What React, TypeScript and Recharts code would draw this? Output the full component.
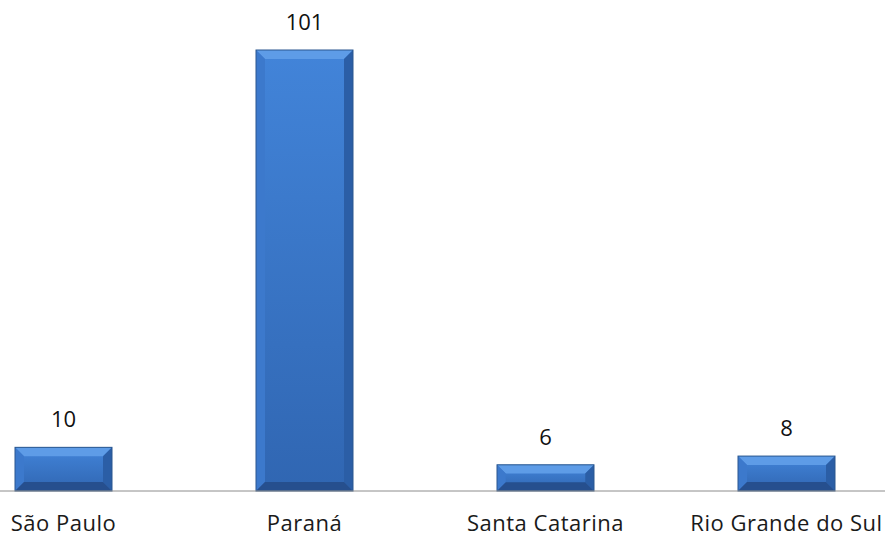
import React from 'react';
import { BarChart, Bar, XAxis, YAxis, LabelList } from 'recharts';

// Datos del gráfico
const estados = ['São Paulo', 'Paraná', 'Santa Catarina', 'Rio Grande do Sul'];
const valores = [10, 101, 6, 8];

const datos = estados.map((estado, i) => ({ estado, valor: valores[i] }));

// Barra con efecto biselado
const BarraBiselada = (props: any) => {
  const { x, y, width, height } = props;
  if (!width || !height) return null;
  const b = Math.min(9, height / 3, width / 3);
  return (
    <g>
      <rect x={x} y={y} width={width} height={height} fill="url(#caraBarra)" />
      <polygon points={`${x},${y} ${x + width},${y} ${x + width - b},${y + b} ${x + b},${y + b}`} fill="#5e9ce7" />
      <polygon points={`${x},${y} ${x + b},${y + b} ${x + b},${y + height - b} ${x},${y + height}`} fill="#3c79cc" />
      <polygon points={`${x + width},${y} ${x + width},${y + height} ${x + width - b},${y + height - b} ${x + width - b},${y + b}`} fill="#2b5ea6" />
      <polygon points={`${x},${y + height} ${x + b},${y + height - b} ${x + width - b},${y + height - b} ${x + width},${y + height}`} fill="#264f8e" />
      <rect x={x} y={y} width={width} height={height} fill="none" stroke="#2a578f" strokeWidth={1} />
    </g>
  );
};

const App: React.FC = () => (
  <div style={{ position: 'absolute', left: 0, top: 0, width: 885, height: 535, overflow: 'hidden', background: '#fff' }}>
    <div style={{ position: 'absolute', left: -57, top: 0 }}>
      <BarChart width={1050} height={535} data={datos} margin={{ top: 50, right: 86, left: 0, bottom: 0 }} barSize={97}>
        <defs>
          <linearGradient id="caraBarra" x1="0" y1="0" x2="0" y2="1">
            <stop offset="0%" stopColor="#4284d9" />
            <stop offset="100%" stopColor="#3066b2" />
          </linearGradient>
        </defs>
        <XAxis
          dataKey="estado"
          height={44}
          axisLine={{ stroke: '#8c8c8c', strokeWidth: 1 }}
          tickLine={false}
          tickSize={0}
          tickMargin={24}
          tick={{ fill: '#1a1a1a', fontSize: 22, letterSpacing: 0.5, fontFamily: '"Open Sans", sans-serif' }}
          interval={0}
        />
        <YAxis hide domain={[0, 101]} />
        <Bar dataKey="valor" shape={<BarraBiselada />} isAnimationActive={false}>
          <LabelList dataKey="valor" position="top" offset={20} fill="#111" fontSize={22} fontFamily='"Open Sans", sans-serif' />
        </Bar>
      </BarChart>
    </div>
  </div>
);

export default App;
